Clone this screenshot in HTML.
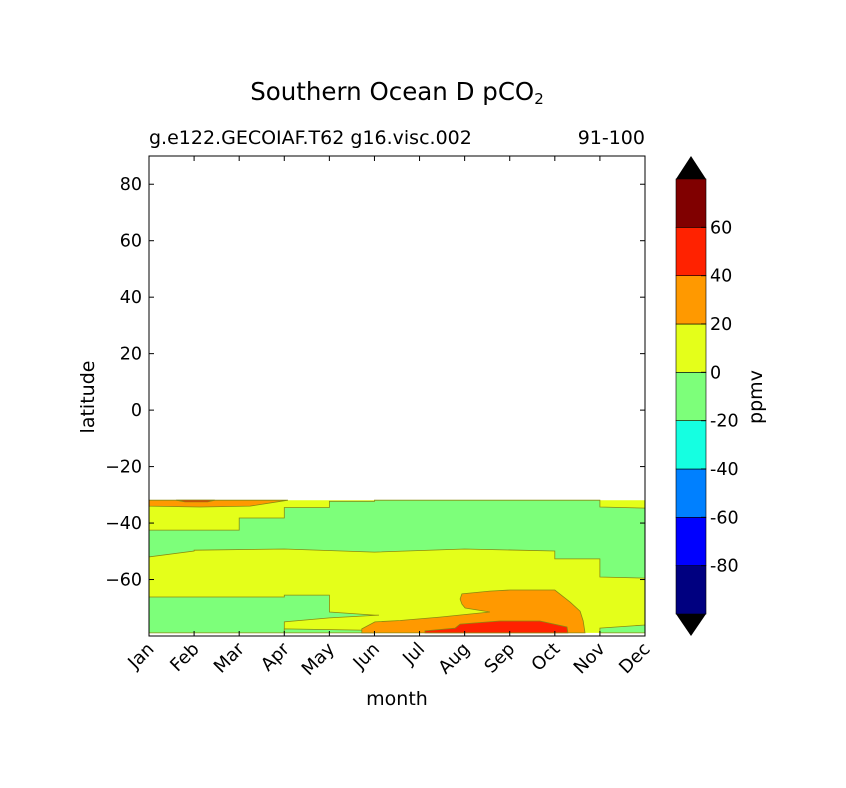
<!DOCTYPE html>
<html><head><meta charset="utf-8"><style>
body{margin:0;background:#fff;}
svg{display:block;font-family:"DejaVu Sans","Liberation Sans",sans-serif;}
</style></head><body>
<svg id="chart" width="846" height="788" viewBox="0 0 846 788">
<rect width="846" height="788" fill="#fff"/>
<text x="397" y="100" font-size="24.5" text-anchor="middle">Southern Ocean D pCO<tspan font-size="15" dy="4">2</tspan></text>
<text x="149" y="144" font-size="19">g.e122.GECOIAF.T62 g16.visc.002</text>
<text x="645" y="144" font-size="19" text-anchor="end">91-100</text>
<g id="plot"></g>
<g id="axes"></g>
<g id="cbar"></g>
<text x="397" y="705" font-size="19" text-anchor="middle">month</text>
<text transform="translate(94,397) rotate(-90)" font-size="19" text-anchor="middle">latitude</text>
<text transform="translate(762,397) rotate(-90)" font-size="19" text-anchor="middle">ppmv</text>
</svg>
<script>
const months=["Jan","Feb","Mar","Apr","May","Jun","Jul","Aug","Sep","Oct","Nov","Dec"];
const yTicks=[-60,-40,-20,0,20,40,60,80];
const levels=[-100,-80,-60,-40,-20,0,20,40,60,80];
const levelColors=["#000080","#0000ff","#0080ff","#15ffe1","#7dff7a","#e4ff1a","#ff9900","#ff2200","#800000"];
const cbLabels=[-80,-60,-40,-20,0,20,40,60];
// contour regions: [month, lat] pairs, with level index
const bandBase=[[0,-31.9],[11,-31.9],[11,-78.9],[0,-78.9]];
const greenUpper=[[0,-42.5],[2,-42.5],[2,-38.2],[3,-38.2],[3,-34.5],[4,-34.5],[4,-32.3],[5,-32.3],[5,-31.9],[10,-31.9],[10,-34.3],[11,-34.7],[11,-59.5],[10,-59.1],[10,-52.7],[9,-52.7],[9,-49.9],[7,-49.2],[5,-50.3],[3,-49.2],[1,-49.6],[1,-49.9],[0,-52.0]];
const greenLower=[[0,-66.2],[3,-66.2],[3,-65.5],[4,-65.5],[4,-71.5],[5,-72.6],[5.1,-72.6],[4,-73.6],[3,-75.0],[3,-78.9],[0,-78.9]];
const greenStrip=[[3,-77.5],[5,-78.0],[5,-78.9],[3,-78.9]];
const greenRight=[[10,-77.2],[11,-76.1],[11,-78.9],[10,-78.9]];
const orangeTop=[[0,-31.9],[3.08,-31.9],[2.24,-34.0],[1.13,-34.3],[0,-34.0]];
const redTop=[[0.6,-31.9],[1.46,-31.9],[1.3,-32.5],[0.8,-32.5]];
const orangeSouth=[[6.9,-66.9],[6.94,-65.1],[7.56,-64.1],[8,-63.7],[9,-63.7],[9.34,-68.0],[9.56,-71.2],[9.63,-74.7],[9.67,-78.9],[4.72,-78.9],[4.72,-77.5],[5.01,-75.0],[5.57,-74.5],[6.45,-73.3],[7.56,-71.5],[7.01,-70.1],[6.94,-68.7]];
const redSouth=[[6.12,-78.2],[6.79,-77.2],[6.9,-75.8],[7.78,-74.7],[8.67,-74.7],[9.27,-76.8],[9.29,-78.9],[6.12,-78.9]];
const regions=[[bandBase,5,"band-0-20"],[greenUpper,4,"band-minus20-0-upper"],[greenLower,4,"band-minus20-0-lower"],[greenStrip,4,"band-minus20-0-strip"],[greenRight,4,"band-minus20-0-right"],[orangeTop,6,"band-20-40-north"],[redTop,7,"band-40-60-north"],[orangeSouth,6,"band-20-40-south"],[redSouth,7,"band-40-60-south"]];

const X0=149,X1=645,Y0=156,Y1=636,LATMIN=-80,LATMAX=90;
const xs=m=>X0+m*(X1-X0)/11;
const ys=v=>Y1-(v-LATMIN)*(Y1-Y0)/(LATMAX-LATMIN);
const NS="http://www.w3.org/2000/svg";
function mk(t,a,p){const e=document.createElementNS(NS,t);for(const k in a)e.setAttribute(k,a[k]);p.appendChild(e);return e;}
const plot=document.getElementById('plot'),axes=document.getElementById('axes'),cbar=document.getElementById('cbar');
regions.forEach(r=>{
  const pts=r[0].map(p=>xs(p[0]).toFixed(1)+","+ys(p[1]).toFixed(1)).join(" ");
  const pg=mk('polygon',{points:pts,fill:levelColors[r[1]],stroke:r[1]===5?"none":"#8a8a10","stroke-width":0.8},plot);
  
  
});
const frame=mk('rect',{x:X0,y:Y0,width:X1-X0,height:Y1-Y0,fill:"none",stroke:"#000","stroke-width":1},axes);


months.forEach((m,i)=>{
  const x=xs(i);
  mk('line',{x1:x,x2:x,y1:Y1,y2:Y1-5,stroke:"#000"},axes);
  mk('line',{x1:x,x2:x,y1:Y0,y2:Y0+5,stroke:"#000"},axes);
  const t=mk('text',{transform:`translate(${x+6},${Y1+14}) rotate(-45)`,"font-size":18,"text-anchor":"end"},axes);
  t.textContent=m;
  
  
});
yTicks.forEach(v=>{
  const y=ys(v);
  mk('line',{x1:X0,x2:X0+5,y1:y,y2:y,stroke:"#000"},axes);
  mk('line',{x1:X1,x2:X1-5,y1:y,y2:y,stroke:"#000"},axes);
  const t=mk('text',{x:X0-7,y:y+6,"font-size":17.5,"text-anchor":"end"},axes);
  t.textContent=v<0?"\u2212"+Math.abs(v):String(v);
  
  
});
// colorbar
const CX=676,CW=30,CT=179,CB=614,n=levelColors.length,h=(CB-CT)/n;
levelColors.forEach((c,i)=>{
  const r=mk('rect',{x:CX,y:CB-(i+1)*h,width:CW,height:h,fill:c,stroke:"#000","stroke-width":0.6},cbar);
  
  
});
const up=mk('polygon',{points:`${CX},${CT} ${CX+CW},${CT} ${CX+CW/2},${Y0}`,fill:"#000"},cbar);


const dn=mk('polygon',{points:`${CX},${CB} ${CX+CW},${CB} ${CX+CW/2},${Y1}`,fill:"#000"},cbar);


cbLabels.forEach(v=>{
  const idx=levels.indexOf(v);
  const y=CB-idx*h;
  mk('line',{x1:CX+CW-5,x2:CX+CW,y1:y,y2:y,stroke:"#000"},cbar);
  const t=mk('text',{x:CX+CW+4,y:y+6,"font-size":17.5},cbar);
  t.textContent=String(v);
  
  
});
</script>
</body></html>
